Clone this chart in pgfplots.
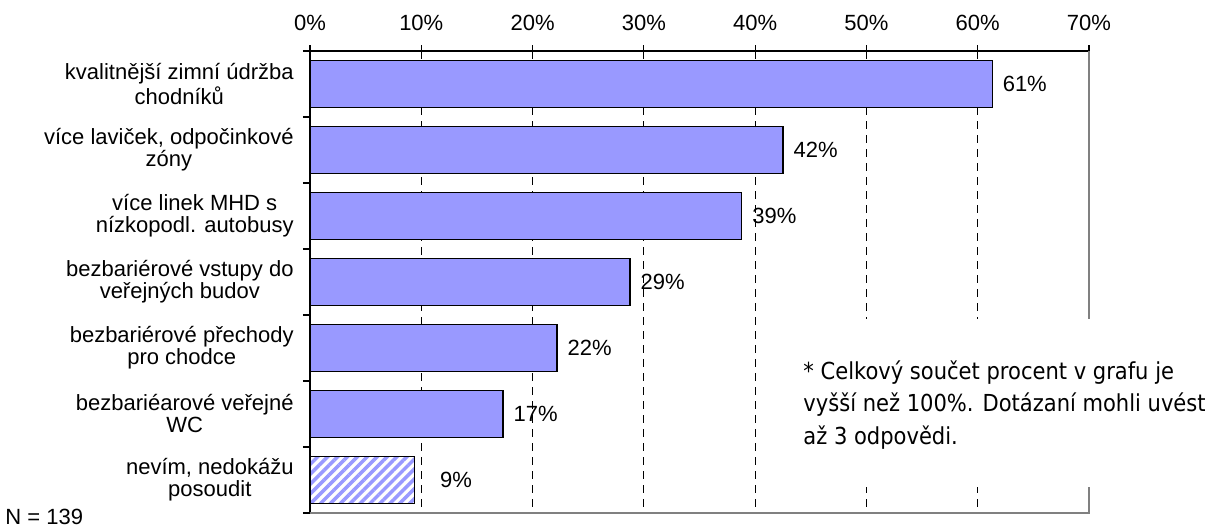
\documentclass[border=0pt]{standalone}
\usepackage{fontspec}
\setmainfont{Liberation Sans}
\newfontfamily\tahoma{DejaVu Sans Condensed}
\usepackage{pgfplots}
\pgfplotsset{compat=1.18}
\usetikzlibrary{patterns.meta}
\definecolor{barblue}{HTML}{9999FF}
\definecolor{bordergray}{HTML}{808080}
\newcommand{\lblfont}{\fontsize{11}{11}\selectfont}
\begin{document}
\begin{tikzpicture}
\path[use as bounding box] (0pt,0pt) rectangle (603pt,-263.5pt);
\begin{axis}[
  at={(155pt,-25.5pt)}, anchor=north west,
  width=389.5pt, height=231pt, scale only axis,
  xmin=0, xmax=70, ymin=-0.5, ymax=6.5, y dir=reverse,
  axis x line=top, axis y line=left,
  xtick pos=right, xticklabel pos=right, ytick pos=left, yticklabel pos=left,
  axis line style={-, black, line width=0.6pt},
  tick align=outside,
  xtick={0,10,...,70},
  xticklabels={0\%,10\%,20\%,30\%,40\%,50\%,60\%,70\%},
  major tick length=3pt,
  minor tick length=3.5pt,
  xtick style={black, line width=0.6pt},
  xticklabel style={font=\lblfont, inner sep=0pt, yshift=7pt},
  ytick={0,...,6},
  yticklabels={{kvalitnější zimní údržba\\chodníků},
               {více laviček, odpočinkové\\zóny},
               {více linek MHD s\\nízkopodl. autobusy},
               {bezbariérové vstupy do\\veřejných budov},
               {bezbariérové přechody\\pro chodce},
               {bezbariéarové veřejné\\WC},
               {nevím, nedokážu\\posoudit}},
  major y tick style={draw=none},
  minor ytick={-0.5,0.5,...,6.5},
  minor y tick style={black, line width=0.6pt},
  yticklabel style={font=\lblfont, align=center, inner sep=0pt, xshift=-5pt},
  xmajorgrids,
  major x grid style={black, line width=0.5pt, dash pattern=on 4pt off 3pt},
  clip=false,
]
\addplot[xbar, bar shift=0pt, bar width=0.71, fill=barblue, draw=black, line width=0.6pt,
  point meta=explicit symbolic, nodes near coords,
  nodes near coords style={anchor=west, inner sep=0pt, xshift=5pt, font=\lblfont, text=black}]
  coordinates {(61.3,0) [61\%] (42.5,1) [42\%] (38.8,2) [39\%] (28.75,3) [29\%] (22.2,4) [22\%] (17.35,5) [17\%]};
\addplot[xbar, bar shift=0pt, bar width=0.71, draw=black, line width=0.6pt,
  preaction={fill=white},
  pattern={Lines[angle=45,distance=3.5pt,line width=1.75pt]}, pattern color=barblue,
  point meta=explicit symbolic, nodes near coords,
  nodes near coords style={anchor=west, inner sep=0pt, xshift=12.5pt, font=\lblfont, text=black}]
  coordinates {(9.4,6) [9\%]};
\draw[bordergray, line width=0.8pt] (axis cs:70,-0.5) -- (axis cs:70,6.5) -- (axis cs:0,6.5);
\end{axis}
\fill[white] (394pt,-159.5pt) rectangle (603pt,-243.5pt);
\node[anchor=base west, inner sep=0pt] at (401.5pt,-189.5pt)
  {\parbox[t]{220pt}{\tahoma\fontsize{11.7}{16.25}\selectfont * Celkový součet procent v grafu je\\
   vyšší než 100\%. Dotázaní mohli uvést\\
   až 3 odpovědi.}};
\node[anchor=base west, inner sep=0pt, font=\lblfont] at (2.5pt,-262pt) {N = 139};
\end{tikzpicture}
\end{document}
